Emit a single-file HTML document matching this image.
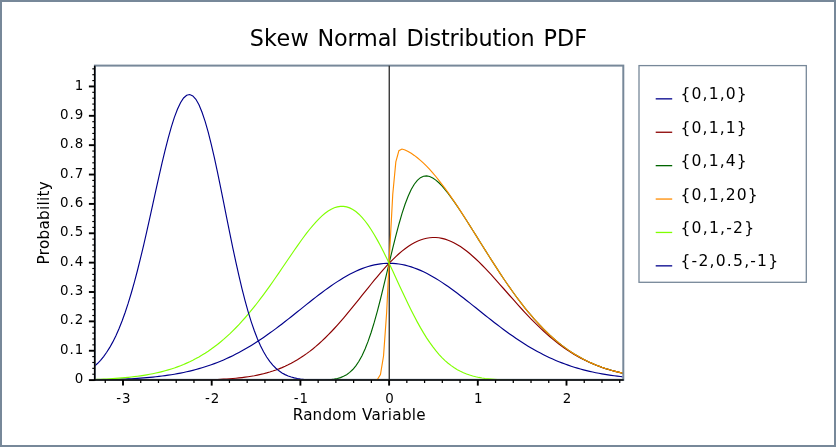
<!DOCTYPE html>
<html><head><meta charset="utf-8"><style>
html,body{margin:0;padding:0;background:#fff;}
svg{display:block;will-change:transform;}
text{font-family:"DejaVu Sans","Liberation Sans",sans-serif;fill:#000;}
.title{font-size:22.3px;}
.tk{font-size:13.4px;}
.axl{font-size:15.2px;}
.lg{font-size:15.6px;}
</style></head><body>
<svg width="836" height="447" viewBox="0 0 836 447">
<rect x="0" y="0" width="836" height="447" fill="#fff"/>
<rect x="1" y="1" width="834" height="445" fill="none" stroke="#778899" stroke-width="2"/>
<text y="45.8" class="title"><tspan x="249.63" letter-spacing="0.3">Skew</tspan> <tspan x="317.44" letter-spacing="-0.14">Normal</tspan> <tspan x="406.39" letter-spacing="-0.16">Distribution</tspan> <tspan x="543.61">PDF</tspan></text>
<rect x="94.9" y="65.6" width="528.40" height="314.20" fill="#fff" stroke="#778899" stroke-width="2"/>
<defs><clipPath id="c"><rect x="95.4" y="65.6" width="526.90" height="313.75"/></clipPath></defs>
<g clip-path="url(#c)">
<line x1="389.25" y1="65.6" x2="389.25" y2="380.1" stroke="#2a2a2a" stroke-width="1.3"/>
<polyline points="91.31,380.03 94.38,379.98 97.46,379.92 100.54,379.86 103.61,379.79 106.69,379.71 109.76,379.63 112.84,379.53 115.92,379.43 118.99,379.31 122.07,379.19 125.14,379.05 128.22,378.90 131.30,378.73 134.37,378.55 137.45,378.36 140.52,378.14 143.60,377.91 146.68,377.65 149.75,377.38 152.83,377.08 155.90,376.75 158.98,376.40 162.06,376.02 165.13,375.62 168.21,375.18 171.28,374.70 174.36,374.20 177.44,373.65 180.51,373.07 183.59,372.45 186.66,371.79 189.74,371.08 192.82,370.33 195.89,369.52 198.97,368.67 202.04,367.77 205.12,366.82 208.20,365.81 211.27,364.75 214.35,363.63 217.42,362.45 220.50,361.21 223.58,359.91 226.65,358.55 229.73,357.13 232.80,355.65 235.88,354.10 238.96,352.49 242.03,350.82 245.11,349.08 248.18,347.28 251.26,345.43 254.34,343.51 257.41,341.54 260.49,339.50 263.56,337.42 266.64,335.28 269.72,333.09 272.79,330.86 275.87,328.59 278.94,326.27 282.02,323.92 285.10,321.54 288.17,319.13 291.25,316.70 294.32,314.25 297.40,311.80 300.48,309.33 303.55,306.87 306.63,304.41 309.70,301.97 312.78,299.54 315.86,297.14 318.93,294.78 322.01,292.45 325.08,290.16 328.16,287.93 331.24,285.75 334.31,283.65 337.39,281.61 340.46,279.65 343.54,277.78 346.62,276.00 349.69,274.31 352.77,272.73 355.84,271.25 358.92,269.89 362.00,268.64 365.07,267.52 368.15,266.52 371.22,265.66 374.30,264.92 377.38,264.32 380.45,263.86 383.53,263.53 386.60,263.35 389.68,263.30 392.76,263.40 395.83,263.64 398.91,264.01 401.98,264.53 405.06,265.18 408.14,265.97 411.21,266.88 414.29,267.93 417.36,269.10 420.44,270.39 423.52,271.80 426.59,273.31 429.67,274.93 432.74,276.66 435.82,278.47 438.90,280.38 441.97,282.37 445.05,284.43 448.12,286.57 451.20,288.76 454.28,291.02 457.35,293.32 460.43,295.67 463.50,298.05 466.58,300.46 469.66,302.89 472.73,305.34 475.81,307.80 478.88,310.26 481.96,312.73 485.04,315.18 488.11,317.62 491.19,320.04 494.26,322.44 497.34,324.81 500.42,327.15 503.49,329.45 506.57,331.71 509.64,333.93 512.72,336.09 515.80,338.21 518.87,340.28 521.95,342.29 525.02,344.24 528.10,346.14 531.18,347.97 534.25,349.74 537.33,351.46 540.40,353.10 543.48,354.69 546.56,356.21 549.63,357.67 552.71,359.07 555.78,360.41 558.86,361.69 561.94,362.90 565.01,364.06 568.09,365.16 571.16,366.20 574.24,367.19 577.32,368.12 580.39,369.00 583.47,369.83 586.54,370.62 589.62,371.35 592.70,372.04 595.77,372.69 598.85,373.30 601.92,373.86 605.00,374.39 608.08,374.89 611.15,375.35 614.23,375.77 617.30,376.17 620.38,376.54 623.46,376.88 626.53,377.19" fill="none" stroke="#00008b" stroke-width="1.15"/>
<polyline points="91.31,380.45 94.38,380.45 97.46,380.45 100.54,380.45 103.61,380.45 106.69,380.45 109.76,380.45 112.84,380.45 115.92,380.45 118.99,380.45 122.07,380.45 125.14,380.45 128.22,380.44 131.30,380.44 134.37,380.44 137.45,380.44 140.52,380.44 143.60,380.44 146.68,380.43 149.75,380.43 152.83,380.42 155.90,380.42 158.98,380.41 162.06,380.40 165.13,380.39 168.21,380.38 171.28,380.37 174.36,380.35 177.44,380.33 180.51,380.31 183.59,380.29 186.66,380.26 189.74,380.22 192.82,380.18 195.89,380.13 198.97,380.07 202.04,380.01 205.12,379.93 208.20,379.84 211.27,379.74 214.35,379.63 217.42,379.50 220.50,379.35 223.58,379.18 226.65,378.98 229.73,378.76 232.80,378.51 235.88,378.23 238.96,377.92 242.03,377.57 245.11,377.17 248.18,376.73 251.26,376.24 254.34,375.70 257.41,375.09 260.49,374.43 263.56,373.69 266.64,372.89 269.72,372.01 272.79,371.04 275.87,369.99 278.94,368.84 282.02,367.60 285.10,366.25 288.17,364.80 291.25,363.24 294.32,361.56 297.40,359.77 300.48,357.85 303.55,355.81 306.63,353.65 309.70,351.36 312.78,348.93 315.86,346.38 318.93,343.70 322.01,340.90 325.08,337.97 328.16,334.92 331.24,331.76 334.31,328.49 337.39,325.11 340.46,321.64 343.54,318.08 346.62,314.44 349.69,310.73 352.77,306.97 355.84,303.17 358.92,299.33 362.00,295.48 365.07,291.63 368.15,287.80 371.22,283.99 374.30,280.23 377.38,276.53 380.45,272.91 383.53,269.39 386.60,265.98 389.68,262.69 392.76,259.55 395.83,256.57 398.91,253.76 401.98,251.14 405.06,248.72 408.14,246.51 411.21,244.53 414.29,242.77 417.36,241.26 420.44,240.00 423.52,238.98 426.59,238.23 429.67,237.73 432.74,237.49 435.82,237.52 438.90,237.80 441.97,238.34 445.05,239.13 448.12,240.17 451.20,241.44 454.28,242.94 457.35,244.67 460.43,246.60 463.50,248.73 466.58,251.05 469.66,253.55 472.73,256.20 475.81,259.00 478.88,261.94 481.96,264.99 485.04,268.15 488.11,271.40 491.19,274.72 494.26,278.11 497.34,281.54 500.42,285.01 503.49,288.50 506.57,292.00 509.64,295.50 512.72,298.99 515.80,302.44 518.87,305.87 521.95,309.25 525.02,312.57 528.10,315.84 531.18,319.04 534.25,322.16 537.33,325.21 540.40,328.17 543.48,331.04 546.56,333.82 549.63,336.50 552.71,339.09 555.78,341.58 558.86,343.96 561.94,346.25 565.01,348.44 568.09,350.53 571.16,352.52 574.24,354.41 577.32,356.21 580.39,357.91 583.47,359.52 586.54,361.04 589.62,362.47 592.70,363.82 595.77,365.08 598.85,366.27 601.92,367.39 605.00,368.43 608.08,369.40 611.15,370.31 614.23,371.15 617.30,371.93 620.38,372.66 623.46,373.34 626.53,373.96" fill="none" stroke="#8b0000" stroke-width="1.15"/>
<polyline points="91.31,380.45 94.38,380.45 97.46,380.45 100.54,380.45 103.61,380.45 106.69,380.45 109.76,380.45 112.84,380.45 115.92,380.45 118.99,380.45 122.07,380.45 125.14,380.45 128.22,380.45 131.30,380.45 134.37,380.45 137.45,380.45 140.52,380.45 143.60,380.45 146.68,380.45 149.75,380.45 152.83,380.45 155.90,380.45 158.98,380.45 162.06,380.45 165.13,380.45 168.21,380.45 171.28,380.45 174.36,380.45 177.44,380.45 180.51,380.45 183.59,380.45 186.66,380.45 189.74,380.45 192.82,380.45 195.89,380.45 198.97,380.45 202.04,380.45 205.12,380.45 208.20,380.45 211.27,380.45 214.35,380.45 217.42,380.45 220.50,380.45 223.58,380.45 226.65,380.45 229.73,380.45 232.80,380.45 235.88,380.45 238.96,380.45 242.03,380.45 245.11,380.45 248.18,380.45 251.26,380.45 254.34,380.45 257.41,380.45 260.49,380.45 263.56,380.45 266.64,380.45 269.72,380.45 272.79,380.45 275.87,380.45 278.94,380.45 282.02,380.45 285.10,380.45 288.17,380.45 291.25,380.45 294.32,380.45 297.40,380.45 300.48,380.45 303.55,380.44 306.63,380.43 309.70,380.42 312.78,380.40 315.86,380.37 318.93,380.32 322.01,380.23 325.08,380.10 328.16,379.90 331.24,379.59 334.31,379.14 337.39,378.50 340.46,377.60 343.54,376.35 346.62,374.66 349.69,372.43 352.77,369.53 355.84,365.85 358.92,361.27 362.00,355.67 365.07,348.99 368.15,341.17 371.22,332.22 374.30,322.16 377.38,311.12 380.45,299.24 383.53,286.73 386.60,273.84 389.68,260.86 392.76,248.07 395.83,235.77 398.91,224.22 401.98,213.67 405.06,204.28 408.14,196.21 411.21,189.51 414.29,184.22 417.36,180.29 420.44,177.67 423.52,176.25 426.59,175.91 429.67,176.52 432.74,177.96 435.82,180.08 438.90,182.79 441.97,185.97 445.05,189.53 448.12,193.41 451.20,197.55 454.28,201.88 457.35,206.37 460.43,210.99 463.50,215.71 466.58,220.50 469.66,225.35 472.73,230.24 475.81,235.16 478.88,240.08 481.96,245.00 485.04,249.91 488.11,254.79 491.19,259.63 494.26,264.43 497.34,269.17 500.42,273.85 503.49,278.45 506.57,282.97 509.64,287.40 512.72,291.74 515.80,295.97 518.87,300.10 521.95,304.13 525.02,308.03 528.10,311.82 531.18,315.49 534.25,319.04 537.33,322.46 540.40,325.76 543.48,328.93 546.56,331.98 549.63,334.90 552.71,337.70 555.78,340.37 558.86,342.92 561.94,345.35 565.01,347.66 568.09,349.86 571.16,351.95 574.24,353.92 577.32,355.79 580.39,357.55 583.47,359.21 586.54,360.78 589.62,362.25 592.70,363.63 595.77,364.93 598.85,366.14 601.92,367.28 605.00,368.34 608.08,369.32 611.15,370.24 614.23,371.10 617.30,371.89 620.38,372.63 623.46,373.31 626.53,373.94" fill="none" stroke="#006400" stroke-width="1.15"/>
<polyline points="91.31,380.45 94.38,380.45 97.46,380.45 100.54,380.45 103.61,380.45 106.69,380.45 109.76,380.45 112.84,380.45 115.92,380.45 118.99,380.45 122.07,380.45 125.14,380.45 128.22,380.45 131.30,380.45 134.37,380.45 137.45,380.45 140.52,380.45 143.60,380.45 146.68,380.45 149.75,380.45 152.83,380.45 155.90,380.45 158.98,380.45 162.06,380.45 165.13,380.45 168.21,380.45 171.28,380.45 174.36,380.45 177.44,380.45 180.51,380.45 183.59,380.45 186.66,380.45 189.74,380.45 192.82,380.45 195.89,380.45 198.97,380.45 202.04,380.45 205.12,380.45 208.20,380.45 211.27,380.45 214.35,380.45 217.42,380.45 220.50,380.45 223.58,380.45 226.65,380.45 229.73,380.45 232.80,380.45 235.88,380.45 238.96,380.45 242.03,380.45 245.11,380.45 248.18,380.45 251.26,380.45 254.34,380.45 257.41,380.45 260.49,380.45 263.56,380.45 266.64,380.45 269.72,380.45 272.79,380.45 275.87,380.45 278.94,380.45 282.02,380.45 285.10,380.45 288.17,380.45 291.25,380.45 294.32,380.45 297.40,380.45 300.48,380.45 303.55,380.45 306.63,380.45 309.70,380.45 312.78,380.45 315.86,380.45 318.93,380.45 322.01,380.45 325.08,380.45 328.16,380.45 331.24,380.45 334.31,380.45 337.39,380.45 340.46,380.45 343.54,380.45 346.62,380.45 349.69,380.45 352.77,380.45 355.84,380.45 358.92,380.45 362.00,380.45 365.07,380.45 368.15,380.45 371.22,380.44 374.30,380.35 377.38,379.50 380.45,374.48 383.53,356.01 386.60,313.28 389.68,251.11 392.76,194.30 395.83,161.90 398.91,150.72 401.98,149.04 405.06,149.95 408.14,151.49 411.21,153.32 414.29,155.41 417.36,157.75 420.44,160.33 423.52,163.14 426.59,166.17 429.67,169.42 432.74,172.86 435.82,176.50 438.90,180.31 441.97,184.29 445.05,188.42 448.12,192.68 451.20,197.08 454.28,201.58 457.35,206.19 460.43,210.88 463.50,215.64 466.58,220.46 469.66,225.33 472.73,230.23 475.81,235.15 478.88,240.08 481.96,245.00 485.04,249.91 488.11,254.79 491.19,259.63 494.26,264.43 497.34,269.17 500.42,273.85 503.49,278.45 506.57,282.97 509.64,287.40 512.72,291.74 515.80,295.97 518.87,300.10 521.95,304.13 525.02,308.03 528.10,311.82 531.18,315.49 534.25,319.04 537.33,322.46 540.40,325.76 543.48,328.93 546.56,331.98 549.63,334.90 552.71,337.70 555.78,340.37 558.86,342.92 561.94,345.35 565.01,347.66 568.09,349.86 571.16,351.95 574.24,353.92 577.32,355.79 580.39,357.55 583.47,359.21 586.54,360.78 589.62,362.25 592.70,363.63 595.77,364.93 598.85,366.14 601.92,367.28 605.00,368.34 608.08,369.32 611.15,370.24 614.23,371.10 617.30,371.89 620.38,372.63 623.46,373.31 626.53,373.94" fill="none" stroke="#ff8c00" stroke-width="1.15"/>
<polyline points="91.31,379.61 94.38,379.51 97.46,379.40 100.54,379.27 103.61,379.13 106.69,378.98 109.76,378.80 112.84,378.62 115.92,378.41 118.99,378.18 122.07,377.93 125.14,377.65 128.22,377.35 131.30,377.02 134.37,376.66 137.45,376.26 140.52,375.83 143.60,375.36 146.68,374.86 149.75,374.30 152.83,373.70 155.90,373.06 158.98,372.36 162.06,371.60 165.13,370.78 168.21,369.90 171.28,368.96 174.36,367.95 177.44,366.86 180.51,365.70 183.59,364.45 186.66,363.12 189.74,361.71 192.82,360.20 195.89,358.60 198.97,356.90 202.04,355.10 205.12,353.19 208.20,351.17 211.27,349.05 214.35,346.81 217.42,344.45 220.50,341.97 223.58,339.38 226.65,336.66 229.73,333.82 232.80,330.85 235.88,327.76 238.96,324.55 242.03,321.21 245.11,317.75 248.18,314.17 251.26,310.47 254.34,306.66 257.41,302.74 260.49,298.71 263.56,294.59 266.64,290.37 269.72,286.08 272.79,281.71 275.87,277.27 278.94,272.80 282.02,268.28 285.10,263.75 288.17,259.21 291.25,254.70 294.32,250.22 297.40,245.80 300.48,241.47 303.55,237.25 306.63,233.17 309.70,229.25 312.78,225.54 315.86,222.06 318.93,218.84 322.01,215.91 325.08,213.32 328.16,211.08 331.24,209.24 334.31,207.82 337.39,206.85 340.46,206.35 343.54,206.35 346.62,206.86 349.69,207.89 352.77,209.46 355.84,211.56 358.92,214.19 362.00,217.34 365.07,220.99 368.15,225.13 371.22,229.71 374.30,234.72 377.38,240.11 380.45,245.83 383.53,251.84 386.60,258.09 389.68,264.53 392.76,271.09 395.83,277.73 398.91,284.39 401.98,291.03 405.06,297.58 408.14,304.00 411.21,310.26 414.29,316.31 417.36,322.11 420.44,327.65 423.52,332.89 426.59,337.82 429.67,342.43 432.74,346.71 435.82,350.66 438.90,354.28 441.97,357.58 445.05,360.56 448.12,363.25 451.20,365.65 454.28,367.78 457.35,369.66 460.43,371.31 463.50,372.75 466.58,374.00 469.66,375.07 472.73,375.99 475.81,376.78 478.88,377.44 481.96,377.99 485.04,378.46 488.11,378.84 491.19,379.16 494.26,379.42 497.34,379.63 500.42,379.81 503.49,379.95 506.57,380.06 509.64,380.14 512.72,380.21 515.80,380.27 518.87,380.31 521.95,380.35 525.02,380.37 528.10,380.39 531.18,380.41 534.25,380.42 537.33,380.43 540.40,380.43 543.48,380.44 546.56,380.44 549.63,380.44 552.71,380.45 555.78,380.45 558.86,380.45 561.94,380.45 565.01,380.45 568.09,380.45 571.16,380.45 574.24,380.45 577.32,380.45 580.39,380.45 583.47,380.45 586.54,380.45 589.62,380.45 592.70,380.45 595.77,380.45 598.85,380.45 601.92,380.45 605.00,380.45 608.08,380.45 611.15,380.45 614.23,380.45 617.30,380.45 620.38,380.45 623.46,380.45 626.53,380.45" fill="none" stroke="#7fff00" stroke-width="1.15"/>
<polyline points="91.31,368.72 94.38,366.34 97.46,363.55 100.54,360.32 103.61,356.58 106.69,352.30 109.76,347.42 112.84,341.89 115.92,335.66 118.99,328.70 122.07,320.97 125.14,312.46 128.22,303.14 131.30,293.02 134.37,282.13 137.45,270.50 140.52,258.19 143.60,245.29 146.68,231.89 149.75,218.14 152.83,204.19 155.90,190.20 158.98,176.38 162.06,162.93 165.13,150.09 168.21,138.07 171.28,127.10 174.36,117.42 177.44,109.21 180.51,102.68 183.59,97.98 186.66,95.23 189.74,94.52 192.82,95.89 195.89,99.34 198.97,104.81 202.04,112.20 205.12,121.38 208.20,132.17 211.27,144.36 214.35,157.70 217.42,171.96 220.50,186.85 223.58,202.13 226.65,217.53 229.73,232.82 232.80,247.77 235.88,262.19 238.96,275.93 242.03,288.84 245.11,300.83 248.18,311.84 251.26,321.84 254.34,330.80 257.41,338.76 260.49,345.74 263.56,351.81 266.64,357.02 269.72,361.45 272.79,365.18 275.87,368.28 278.94,370.84 282.02,372.93 285.10,374.62 288.17,375.96 291.25,377.03 294.32,377.87 297.40,378.52 300.48,379.02 303.55,379.40 306.63,379.68 309.70,379.90 312.78,380.05 315.86,380.17 318.93,380.25 322.01,380.31 325.08,380.36 328.16,380.39 331.24,380.41 334.31,380.42 337.39,380.43 340.46,380.44 343.54,380.44 346.62,380.44 349.69,380.45 352.77,380.45 355.84,380.45 358.92,380.45 362.00,380.45 365.07,380.45 368.15,380.45 371.22,380.45 374.30,380.45 377.38,380.45 380.45,380.45 383.53,380.45 386.60,380.45 389.68,380.45 392.76,380.45 395.83,380.45 398.91,380.45 401.98,380.45 405.06,380.45 408.14,380.45 411.21,380.45 414.29,380.45 417.36,380.45 420.44,380.45 423.52,380.45 426.59,380.45 429.67,380.45 432.74,380.45 435.82,380.45 438.90,380.45 441.97,380.45 445.05,380.45 448.12,380.45 451.20,380.45 454.28,380.45 457.35,380.45 460.43,380.45 463.50,380.45 466.58,380.45 469.66,380.45 472.73,380.45 475.81,380.45 478.88,380.45 481.96,380.45 485.04,380.45 488.11,380.45 491.19,380.45 494.26,380.45 497.34,380.45 500.42,380.45 503.49,380.45 506.57,380.45 509.64,380.45 512.72,380.45 515.80,380.45 518.87,380.45 521.95,380.45 525.02,380.45 528.10,380.45 531.18,380.45 534.25,380.45 537.33,380.45 540.40,380.45 543.48,380.45 546.56,380.45 549.63,380.45 552.71,380.45 555.78,380.45 558.86,380.45 561.94,380.45 565.01,380.45 568.09,380.45 571.16,380.45 574.24,380.45 577.32,380.45 580.39,380.45 583.47,380.45 586.54,380.45 589.62,380.45 592.70,380.45 595.77,380.45 598.85,380.45 601.92,380.45 605.00,380.45 608.08,380.45 611.15,380.45 614.23,380.45 617.30,380.45 620.38,380.45 623.46,380.45 626.53,380.45" fill="none" stroke="#00008b" stroke-width="1.15"/>
</g>
<line x1="94.7" y1="65.69999999999999" x2="94.7" y2="380.85" stroke="#000" stroke-width="1.5"/>
<line x1="94.7" y1="380.1" x2="623.6999999999999" y2="380.1" stroke="#000" stroke-width="1.5"/>
<line x1="123.00" y1="380.1" x2="123.00" y2="385.6" stroke="#000" stroke-width="1.9"/>
<line x1="211.70" y1="380.1" x2="211.70" y2="385.6" stroke="#000" stroke-width="1.9"/>
<line x1="300.40" y1="380.1" x2="300.40" y2="385.6" stroke="#000" stroke-width="1.9"/>
<line x1="389.10" y1="380.1" x2="389.10" y2="385.6" stroke="#000" stroke-width="1.9"/>
<line x1="477.80" y1="380.1" x2="477.80" y2="385.6" stroke="#000" stroke-width="1.9"/>
<line x1="566.50" y1="380.1" x2="566.50" y2="385.6" stroke="#000" stroke-width="1.9"/>
<line x1="105.26" y1="380.1" x2="105.26" y2="383" stroke="#000" stroke-width="1.25"/>
<line x1="140.74" y1="380.1" x2="140.74" y2="383" stroke="#000" stroke-width="1.25"/>
<line x1="158.48" y1="380.1" x2="158.48" y2="383" stroke="#000" stroke-width="1.25"/>
<line x1="176.22" y1="380.1" x2="176.22" y2="383" stroke="#000" stroke-width="1.25"/>
<line x1="193.96" y1="380.1" x2="193.96" y2="383" stroke="#000" stroke-width="1.25"/>
<line x1="229.44" y1="380.1" x2="229.44" y2="383" stroke="#000" stroke-width="1.25"/>
<line x1="247.18" y1="380.1" x2="247.18" y2="383" stroke="#000" stroke-width="1.25"/>
<line x1="264.92" y1="380.1" x2="264.92" y2="383" stroke="#000" stroke-width="1.25"/>
<line x1="282.66" y1="380.1" x2="282.66" y2="383" stroke="#000" stroke-width="1.25"/>
<line x1="318.14" y1="380.1" x2="318.14" y2="383" stroke="#000" stroke-width="1.25"/>
<line x1="335.88" y1="380.1" x2="335.88" y2="383" stroke="#000" stroke-width="1.25"/>
<line x1="353.62" y1="380.1" x2="353.62" y2="383" stroke="#000" stroke-width="1.25"/>
<line x1="371.36" y1="380.1" x2="371.36" y2="383" stroke="#000" stroke-width="1.25"/>
<line x1="406.84" y1="380.1" x2="406.84" y2="383" stroke="#000" stroke-width="1.25"/>
<line x1="424.58" y1="380.1" x2="424.58" y2="383" stroke="#000" stroke-width="1.25"/>
<line x1="442.32" y1="380.1" x2="442.32" y2="383" stroke="#000" stroke-width="1.25"/>
<line x1="460.06" y1="380.1" x2="460.06" y2="383" stroke="#000" stroke-width="1.25"/>
<line x1="495.54" y1="380.1" x2="495.54" y2="383" stroke="#000" stroke-width="1.25"/>
<line x1="513.28" y1="380.1" x2="513.28" y2="383" stroke="#000" stroke-width="1.25"/>
<line x1="531.02" y1="380.1" x2="531.02" y2="383" stroke="#000" stroke-width="1.25"/>
<line x1="548.76" y1="380.1" x2="548.76" y2="383" stroke="#000" stroke-width="1.25"/>
<line x1="584.24" y1="380.1" x2="584.24" y2="383" stroke="#000" stroke-width="1.25"/>
<line x1="601.98" y1="380.1" x2="601.98" y2="383" stroke="#000" stroke-width="1.25"/>
<line x1="619.72" y1="380.1" x2="619.72" y2="383" stroke="#000" stroke-width="1.25"/>
<line x1="88.9" y1="380.10" x2="94.7" y2="380.10" stroke="#000" stroke-width="1.9"/>
<line x1="88.9" y1="350.74" x2="94.7" y2="350.74" stroke="#000" stroke-width="1.9"/>
<line x1="88.9" y1="321.37" x2="94.7" y2="321.37" stroke="#000" stroke-width="1.9"/>
<line x1="88.9" y1="292.01" x2="94.7" y2="292.01" stroke="#000" stroke-width="1.9"/>
<line x1="88.9" y1="262.64" x2="94.7" y2="262.64" stroke="#000" stroke-width="1.9"/>
<line x1="88.9" y1="233.28" x2="94.7" y2="233.28" stroke="#000" stroke-width="1.9"/>
<line x1="88.9" y1="203.91" x2="94.7" y2="203.91" stroke="#000" stroke-width="1.9"/>
<line x1="88.9" y1="174.55" x2="94.7" y2="174.55" stroke="#000" stroke-width="1.9"/>
<line x1="88.9" y1="145.18" x2="94.7" y2="145.18" stroke="#000" stroke-width="1.9"/>
<line x1="88.9" y1="115.82" x2="94.7" y2="115.82" stroke="#000" stroke-width="1.9"/>
<line x1="88.9" y1="86.45" x2="94.7" y2="86.45" stroke="#000" stroke-width="1.9"/>
<line x1="92.3" y1="374.23" x2="94.7" y2="374.23" stroke="#000" stroke-width="1.15"/>
<line x1="92.3" y1="368.35" x2="94.7" y2="368.35" stroke="#000" stroke-width="1.15"/>
<line x1="92.3" y1="362.48" x2="94.7" y2="362.48" stroke="#000" stroke-width="1.15"/>
<line x1="92.3" y1="356.61" x2="94.7" y2="356.61" stroke="#000" stroke-width="1.15"/>
<line x1="92.3" y1="344.86" x2="94.7" y2="344.86" stroke="#000" stroke-width="1.15"/>
<line x1="92.3" y1="338.99" x2="94.7" y2="338.99" stroke="#000" stroke-width="1.15"/>
<line x1="92.3" y1="333.12" x2="94.7" y2="333.12" stroke="#000" stroke-width="1.15"/>
<line x1="92.3" y1="327.24" x2="94.7" y2="327.24" stroke="#000" stroke-width="1.15"/>
<line x1="92.3" y1="315.50" x2="94.7" y2="315.50" stroke="#000" stroke-width="1.15"/>
<line x1="92.3" y1="309.62" x2="94.7" y2="309.62" stroke="#000" stroke-width="1.15"/>
<line x1="92.3" y1="303.75" x2="94.7" y2="303.75" stroke="#000" stroke-width="1.15"/>
<line x1="92.3" y1="297.88" x2="94.7" y2="297.88" stroke="#000" stroke-width="1.15"/>
<line x1="92.3" y1="286.13" x2="94.7" y2="286.13" stroke="#000" stroke-width="1.15"/>
<line x1="92.3" y1="280.26" x2="94.7" y2="280.26" stroke="#000" stroke-width="1.15"/>
<line x1="92.3" y1="274.39" x2="94.7" y2="274.39" stroke="#000" stroke-width="1.15"/>
<line x1="92.3" y1="268.51" x2="94.7" y2="268.51" stroke="#000" stroke-width="1.15"/>
<line x1="92.3" y1="256.77" x2="94.7" y2="256.77" stroke="#000" stroke-width="1.15"/>
<line x1="92.3" y1="250.89" x2="94.7" y2="250.89" stroke="#000" stroke-width="1.15"/>
<line x1="92.3" y1="245.02" x2="94.7" y2="245.02" stroke="#000" stroke-width="1.15"/>
<line x1="92.3" y1="239.15" x2="94.7" y2="239.15" stroke="#000" stroke-width="1.15"/>
<line x1="92.3" y1="227.40" x2="94.7" y2="227.40" stroke="#000" stroke-width="1.15"/>
<line x1="92.3" y1="221.53" x2="94.7" y2="221.53" stroke="#000" stroke-width="1.15"/>
<line x1="92.3" y1="215.66" x2="94.7" y2="215.66" stroke="#000" stroke-width="1.15"/>
<line x1="92.3" y1="209.78" x2="94.7" y2="209.78" stroke="#000" stroke-width="1.15"/>
<line x1="92.3" y1="198.04" x2="94.7" y2="198.04" stroke="#000" stroke-width="1.15"/>
<line x1="92.3" y1="192.16" x2="94.7" y2="192.16" stroke="#000" stroke-width="1.15"/>
<line x1="92.3" y1="186.29" x2="94.7" y2="186.29" stroke="#000" stroke-width="1.15"/>
<line x1="92.3" y1="180.42" x2="94.7" y2="180.42" stroke="#000" stroke-width="1.15"/>
<line x1="92.3" y1="168.67" x2="94.7" y2="168.67" stroke="#000" stroke-width="1.15"/>
<line x1="92.3" y1="162.80" x2="94.7" y2="162.80" stroke="#000" stroke-width="1.15"/>
<line x1="92.3" y1="156.93" x2="94.7" y2="156.93" stroke="#000" stroke-width="1.15"/>
<line x1="92.3" y1="151.05" x2="94.7" y2="151.05" stroke="#000" stroke-width="1.15"/>
<line x1="92.3" y1="139.31" x2="94.7" y2="139.31" stroke="#000" stroke-width="1.15"/>
<line x1="92.3" y1="133.43" x2="94.7" y2="133.43" stroke="#000" stroke-width="1.15"/>
<line x1="92.3" y1="127.56" x2="94.7" y2="127.56" stroke="#000" stroke-width="1.15"/>
<line x1="92.3" y1="121.69" x2="94.7" y2="121.69" stroke="#000" stroke-width="1.15"/>
<line x1="92.3" y1="109.94" x2="94.7" y2="109.94" stroke="#000" stroke-width="1.15"/>
<line x1="92.3" y1="104.07" x2="94.7" y2="104.07" stroke="#000" stroke-width="1.15"/>
<line x1="92.3" y1="98.20" x2="94.7" y2="98.20" stroke="#000" stroke-width="1.15"/>
<line x1="92.3" y1="92.32" x2="94.7" y2="92.32" stroke="#000" stroke-width="1.15"/>
<line x1="92.3" y1="80.58" x2="94.7" y2="80.58" stroke="#000" stroke-width="1.15"/>
<line x1="92.3" y1="74.70" x2="94.7" y2="74.70" stroke="#000" stroke-width="1.15"/>
<line x1="92.3" y1="68.83" x2="94.7" y2="68.83" stroke="#000" stroke-width="1.15"/>
<text x="123.90" y="403.2" text-anchor="middle" class="tk" letter-spacing="0.9">-3</text>
<text x="212.60" y="403.2" text-anchor="middle" class="tk" letter-spacing="0.9">-2</text>
<text x="301.30" y="403.2" text-anchor="middle" class="tk" letter-spacing="0.9">-1</text>
<text x="390.00" y="403.2" text-anchor="middle" class="tk" letter-spacing="0.9">0</text>
<text x="478.70" y="403.2" text-anchor="middle" class="tk" letter-spacing="0.9">1</text>
<text x="567.40" y="403.2" text-anchor="middle" class="tk" letter-spacing="0.9">2</text>
<text x="84.1" y="383.20" text-anchor="end" class="tk" letter-spacing="0.9">0</text>
<text x="84.1" y="353.84" text-anchor="end" class="tk" letter-spacing="0.9">0.1</text>
<text x="84.1" y="324.47" text-anchor="end" class="tk" letter-spacing="0.9">0.2</text>
<text x="84.1" y="295.11" text-anchor="end" class="tk" letter-spacing="0.9">0.3</text>
<text x="84.1" y="265.74" text-anchor="end" class="tk" letter-spacing="0.9">0.4</text>
<text x="84.1" y="236.38" text-anchor="end" class="tk" letter-spacing="0.9">0.5</text>
<text x="84.1" y="207.01" text-anchor="end" class="tk" letter-spacing="0.9">0.6</text>
<text x="84.1" y="177.65" text-anchor="end" class="tk" letter-spacing="0.9">0.7</text>
<text x="84.1" y="148.28" text-anchor="end" class="tk" letter-spacing="0.9">0.8</text>
<text x="84.1" y="118.92" text-anchor="end" class="tk" letter-spacing="0.9">0.9</text>
<text x="84.1" y="89.55" text-anchor="end" class="tk" letter-spacing="0.9">1</text>
<text y="420.4" class="axl"><tspan x="292.75" letter-spacing="0.17">Random</tspan> <tspan x="362.1" letter-spacing="0.3">Variable</tspan></text>
<text transform="translate(49 222.4) rotate(-90)" x="-42.1" letter-spacing="0.3" class="axl">Probability</text>
<rect x="639" y="65.6" width="167.3" height="216.7" fill="#fff" stroke="#778899" stroke-width="1.3"/>
<line x1="655.7" y1="98.85" x2="672.2" y2="98.85" stroke="#00008b" stroke-width="1.3"/>
<text x="680.5" y="99.35" class="lg" letter-spacing="1.12">{0,1,0}</text>
<line x1="655.7" y1="132.25" x2="672.2" y2="132.25" stroke="#8b0000" stroke-width="1.3"/>
<text x="680.5" y="132.75" class="lg" letter-spacing="1.12">{0,1,1}</text>
<line x1="655.7" y1="165.65" x2="672.2" y2="165.65" stroke="#006400" stroke-width="1.3"/>
<text x="680.5" y="166.15" class="lg" letter-spacing="1.12">{0,1,4}</text>
<line x1="655.7" y1="199.05" x2="672.2" y2="199.05" stroke="#ff8c00" stroke-width="1.3"/>
<text x="680.5" y="199.55" class="lg" letter-spacing="1.12">{0,1,20}</text>
<line x1="655.7" y1="232.45" x2="672.2" y2="232.45" stroke="#7fff00" stroke-width="1.3"/>
<text x="680.5" y="232.95" class="lg" letter-spacing="1.2">{0,1,-2}</text>
<line x1="655.7" y1="265.85" x2="672.2" y2="265.85" stroke="#00008b" stroke-width="1.3"/>
<text x="680.5" y="266.35" class="lg" letter-spacing="1.2">{-2,0.5,-1}</text>
</svg>
</body></html>
